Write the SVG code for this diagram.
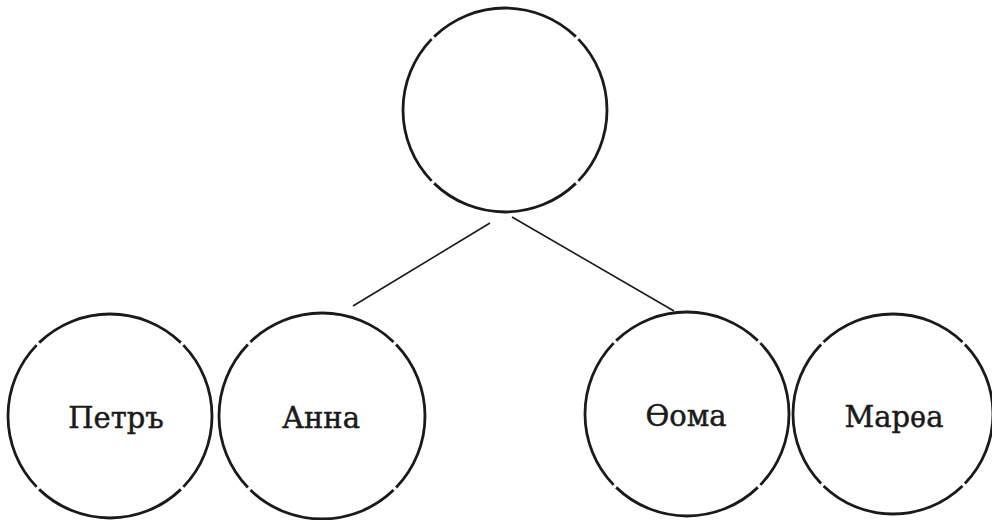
<svg xmlns="http://www.w3.org/2000/svg" width="992" height="520" viewBox="0 0 992 520">
<style>
.c{fill:none;stroke:#1a1a1a;stroke-width:2.8;stroke-dasharray:88 2;stroke-dashoffset:44}
.t{font-family:"DejaVu Serif","Liberation Serif",serif;font-size:29px;fill:#1a1a1a;stroke:#1a1a1a;stroke-width:0.5;text-anchor:middle}
.e{stroke:#1a1a1a;stroke-width:1.6;fill:none}
</style>
<rect width="992" height="520" fill="#ffffff"/>
<g id="connectors">
<line class="e" x1="490" y1="223" x2="353" y2="306"/>
<line class="e" x1="512" y1="217" x2="674" y2="311"/>
</g>
<g id="parent">
<circle class="c" cx="505" cy="110" r="102" pathLength="360"/>
</g>
<g id="petr">
<circle class="c" cx="110" cy="416" r="102" pathLength="360"/>
<text class="t" x="116" y="428">Петръ</text>
</g>
<g id="anna">
<circle class="c" cx="322" cy="416" r="103" pathLength="360"/>
<text class="t" x="321" y="428">Анна</text>
</g>
<g id="foma">
<circle class="c" cx="687" cy="414" r="102" pathLength="360"/>
<text class="t" x="686" y="426">Ѳома</text>
</g>
<g id="marfa">
<circle class="c" cx="893" cy="414" r="100" pathLength="360"/>
<text class="t" x="894" y="427">Марѳа</text>
</g>
</svg>
